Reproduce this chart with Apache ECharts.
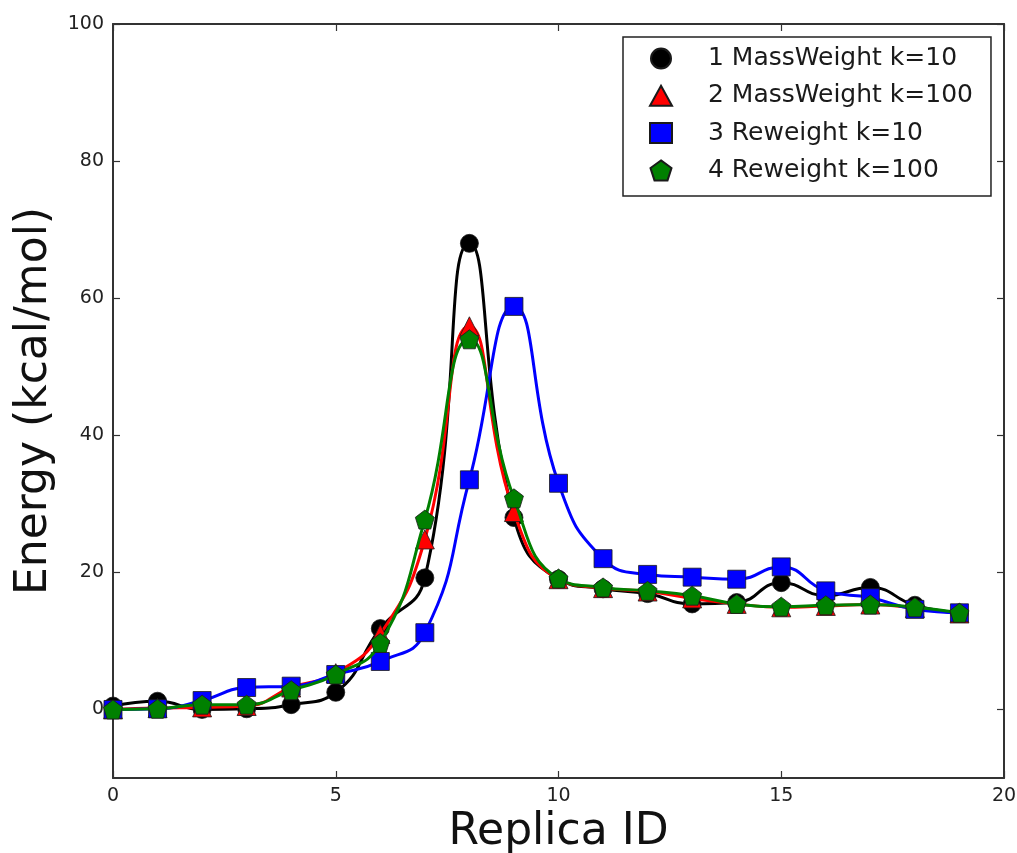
<!DOCTYPE html>
<html>
<head>
<meta charset="utf-8">
<script src="https://cdn.jsdelivr.net/npm/echarts@6/dist/echarts.min.js"></script>
<style>
  html, body { margin: 0; padding: 0; background: #ffffff; overflow: hidden; }
  #chart { width: 1017px; height: 853px; }
</style>
</head>
<body>
<div id="chart"></div>
<script>
// Replica index along the string of images
const replicaIds = [0, 1, 2, 3, 4, 5, 6, 7, 8, 9, 10, 11, 12, 13, 14, 15, 16, 17, 18, 19];

// Energy profiles (kcal/mol) for each protocol
const massWeightK10  = [0.5, 1.2, 0.0, 0.1, 0.7, 2.5, 11.8, 19.2, 68.0, 28.0, 19.0, 17.6, 16.9, 15.4, 15.6, 18.5, 16.6, 17.8, 15.2, 14.1];
const massWeightK100 = [0.0, 0.2, 0.3, 0.5, 3.2, 5.3, 11.0, 24.8, 55.9, 28.8, 19.0, 17.7, 17.2, 16.2, 15.4, 14.9, 15.1, 15.3, 14.8, 14.0];
const reweightK10    = [0.0, 0.1, 1.3, 3.2, 3.4, 5.1, 7.0, 11.2, 33.5, 58.8, 33.0, 22.0, 19.7, 19.3, 19.0, 20.8, 17.3, 16.3, 14.6, 14.1];
const reweightK100   = [0.0, 0.1, 0.7, 0.7, 2.8, 5.1, 9.7, 27.7, 54.0, 30.8, 19.1, 17.8, 17.3, 16.6, 15.4, 15.0, 15.2, 15.3, 14.9, 14.1];

const seriesNames = ['1 MassWeight k=10', '2 MassWeight k=100', '3 Reweight k=10', '4 Reweight k=100'];

// Axis tick labels
const xTicks = [0, 5, 10, 15, 20];
const yTicks = [0, 20, 40, 60, 80, 100];

const FONT = 'DejaVu Sans';
const AXIS_COLOR = '#333333';
const PENTAGON = 'path://M0,-1 L0.951,-0.309 L0.588,0.809 L-0.588,0.809 L-0.951,-0.309 Z';

const styles = [
  { color: '#000000', symbol: 'circle',   size: 18 },
  { color: '#ff0000', symbol: 'triangle', size: 19 },
  { color: '#0000ff', symbol: 'rect',     size: 18 },
  { color: '#008000', symbol: PENTAGON,   size: 19 }
];
const values = [massWeightK10, massWeightK100, reweightK10, reweightK100];

const chart = echarts.init(document.getElementById('chart'), null, { renderer: 'canvas' });

const tickCommon = { show: true, inside: true, length: 7, lineStyle: { color: AXIS_COLOR, width: 1.2 } };
const lineCommon = { show: true, onZero: false, lineStyle: { color: AXIS_COLOR, width: 2 } };

const option = {
  backgroundColor: '#ffffff',
  animation: false,
  grid: { left: 113, right: 13, top: 24, bottom: 75, containLabel: false, outerBoundsMode: 'none' },
  legend: {
    orient: 'vertical',
    left: 623,
    top: 37,
    padding: [9, 18, 13, 26],
    itemWidth: 22,
    itemHeight: 20,
    itemGap: 12.3,
    borderColor: '#222222',
    borderWidth: 1.5,
    borderRadius: 0,
    backgroundColor: '#ffffff',
    textStyle: { fontFamily: FONT, fontSize: 25, color: '#1a1a1a', lineHeight: 24, padding: [0, 0, 0, 31] },
    data: seriesNames.map((n, i) => ({ name: n, icon: styles[i].symbol }))
  },
  xAxis: [
    {
      type: 'value', position: 'bottom', min: 0, max: 20, interval: 5,
      name: 'Replica ID', nameLocation: 'middle', nameGap: 30,
      nameTextStyle: { fontFamily: FONT, fontSize: 44, color: '#111111' },
      axisLine: lineCommon, axisTick: tickCommon, splitLine: { show: false },
      axisLabel: { fontFamily: FONT, fontSize: 19, color: '#222222', margin: 9, customValues: xTicks },
    },
    {
      type: 'value', position: 'top', min: 0, max: 20, interval: 5,
      axisLine: lineCommon, axisTick: tickCommon, splitLine: { show: false },
      axisLabel: { show: false }
    }
  ],
  yAxis: [
    {
      type: 'value', position: 'left', min: -10, max: 100,
      name: 'Energy (kcal/mol)', nameLocation: 'middle', nameGap: 50,
      nameTextStyle: { fontFamily: FONT, fontSize: 44, color: '#111111' },
      axisLine: lineCommon,
      axisTick: Object.assign({}, tickCommon, { customValues: yTicks }),
      splitLine: { show: false },
      axisLabel: { fontFamily: FONT, fontSize: 19, color: '#222222', margin: 9, customValues: yTicks }
    },
    {
      type: 'value', position: 'right', min: -10, max: 100,
      axisLine: lineCommon,
      axisTick: Object.assign({}, tickCommon, { customValues: yTicks }),
      splitLine: { show: false },
      axisLabel: { show: false, customValues: yTicks }
    }
  ],
  series: seriesNames.map((name, i) => ({
    name: name,
    type: 'line',
    xAxisIndex: 0,
    yAxisIndex: 0,
    smooth: 0.5,
    symbol: styles[i].symbol,
    symbolSize: styles[i].size,
    showAllSymbol: true,
    lineStyle: { color: styles[i].color, width: 3 },
    itemStyle: { color: styles[i].color, borderColor: '#1a1a1a', borderWidth: 0.8 },
    emphasis: { disabled: true },
    z: 2 + i,
    data: replicaIds.map((x, k) => [x, values[i][k]])
  }))
};

chart.setOption(option);
</script>
</body>
</html>
